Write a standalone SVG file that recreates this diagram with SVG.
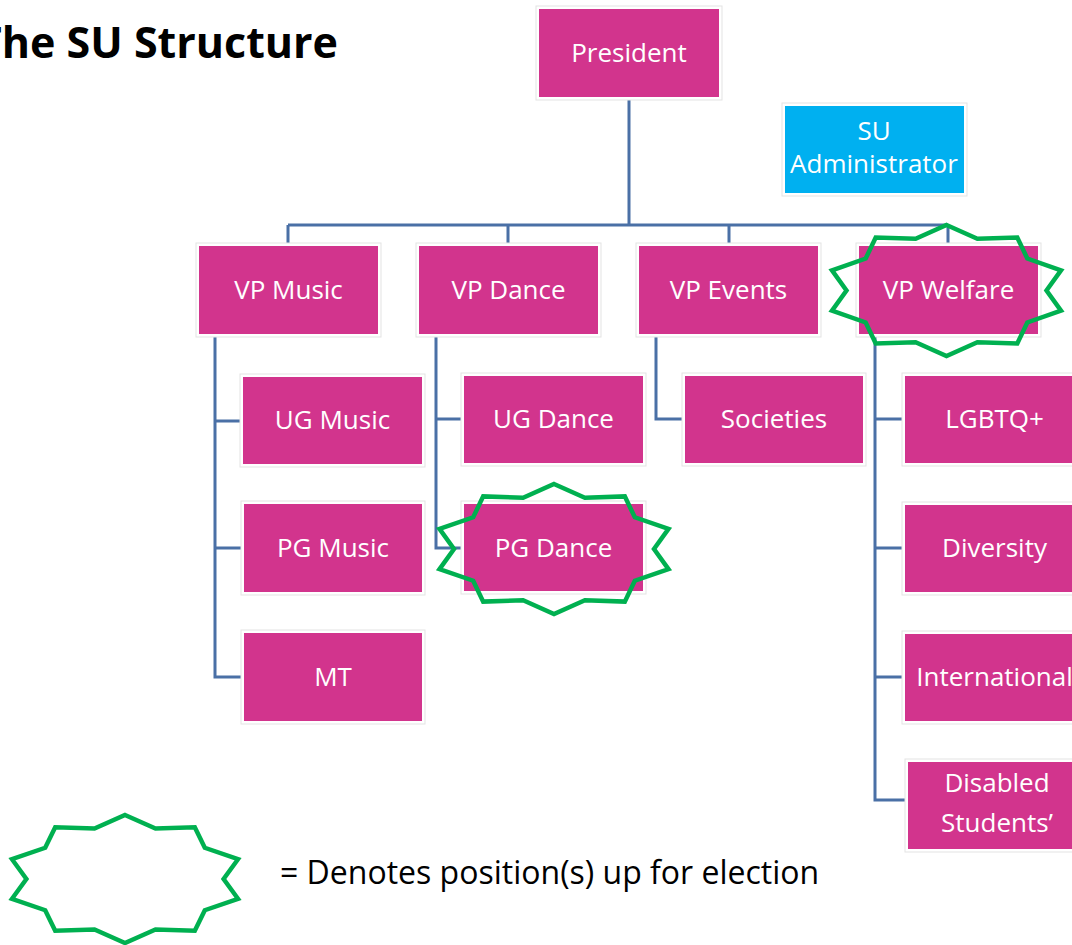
<svg xmlns="http://www.w3.org/2000/svg" width="1072" height="945" viewBox="0 0 1072 945">
<style>
.frame{fill:#fff;stroke:#e3e3e3;stroke-width:1}
.box{fill:#D2348D}
.blue{fill:#00B0F0}
.lbl{font-family:"Open Sans","DejaVu Sans",sans-serif;font-size:26px;fill:#fff;text-anchor:middle}
.conn{fill:none;stroke:#4A70A6;stroke-width:3;stroke-linejoin:miter}
.star{fill:none;stroke:#00B050;stroke-width:4.5;stroke-linejoin:miter}
</style>
<rect width="1072" height="945" fill="#fff"/>
<text x="338" y="58" text-anchor="end" font-family="'Open Sans','DejaVu Sans',sans-serif" font-weight="bold" font-size="43" fill="#000">The SU Structure</text>

<g id="connectors">
<path class="conn" d="M629 97V225M288 225H948M288 225V246M508 225V246M729 225V246M948 225V246"/>
<path class="conn" d="M215 334V677H244M215 421H243M215 548H244"/>
<path class="conn" d="M436 334V548H464M436 419H464"/>
<path class="conn" d="M656 334V419H685"/>
<path class="conn" d="M875 334V800H908M875 419H905M875 548H905M875 677H905"/>
</g>

<g id="president"><rect class="frame" x="536" y="6" width="186" height="94"/><rect class="box" x="539" y="9" width="180" height="88"/><text class="lbl" x="629" y="62">President</text></g>
<g id="su-admin"><rect class="frame" x="782" y="103" width="185" height="93"/><rect class="blue" x="785" y="106" width="179" height="87"/><text class="lbl" x="874" y="140">SU</text><text class="lbl" x="874" y="173">Administrator</text></g>

<g id="vp-music"><rect class="frame" x="196" y="243" width="185" height="94"/><rect class="box" x="199" y="246" width="179" height="88"/><text class="lbl" x="288.5" y="299">VP Music</text></g>
<g id="vp-dance"><rect class="frame" x="416" y="243" width="185" height="94"/><rect class="box" x="419" y="246" width="179" height="88"/><text class="lbl" x="508.5" y="299">VP Dance</text></g>
<g id="vp-events"><rect class="frame" x="636" y="243" width="185" height="94"/><rect class="box" x="639" y="246" width="179" height="88"/><text class="lbl" x="728.5" y="299">VP Events</text></g>
<g id="vp-welfare"><rect class="frame" x="856" y="243" width="185" height="94"/><rect class="box" x="859" y="246" width="179" height="88"/><text class="lbl" x="948.5" y="299">VP Welfare</text></g>

<g id="ug-music"><rect class="frame" x="240" y="374" width="185" height="93"/><rect class="box" x="243" y="377" width="179" height="87"/><text class="lbl" x="332.5" y="429">UG Music</text></g>
<g id="pg-music"><rect class="frame" x="241" y="501" width="184" height="94"/><rect class="box" x="244" y="504" width="178" height="88"/><text class="lbl" x="333" y="557">PG Music</text></g>
<g id="mt"><rect class="frame" x="241" y="630" width="184" height="94"/><rect class="box" x="244" y="633" width="178" height="88"/><text class="lbl" x="333" y="686">MT</text></g>

<g id="ug-dance"><rect class="frame" x="461" y="373" width="185" height="93"/><rect class="box" x="464" y="376" width="179" height="87"/><text class="lbl" x="553.5" y="428">UG Dance</text></g>
<g id="pg-dance"><rect class="frame" x="461" y="501" width="185" height="93"/><rect class="box" x="464" y="504" width="179" height="87"/><text class="lbl" x="553.5" y="557">PG Dance</text></g>

<g id="societies"><rect class="frame" x="682" y="373" width="184" height="93"/><rect class="box" x="685" y="376" width="178" height="87"/><text class="lbl" x="774" y="428">Societies</text></g>

<g id="lgbtq"><rect class="frame" x="902" y="373" width="185" height="93"/><rect class="box" x="905" y="376" width="179" height="87"/><text class="lbl" x="994.5" y="428">LGBTQ+</text></g>
<g id="diversity"><rect class="frame" x="902" y="502" width="185" height="93"/><rect class="box" x="905" y="505" width="179" height="87"/><text class="lbl" x="994.5" y="557">Diversity</text></g>
<g id="international"><rect class="frame" x="902" y="631" width="185" height="93"/><rect class="box" x="905" y="634" width="179" height="87"/><text class="lbl" x="994.5" y="686">International</text></g>
<g id="disabled"><rect class="frame" x="905" y="759" width="184" height="93"/><rect class="box" x="908" y="762" width="178" height="87"/><text class="lbl" x="997" y="792">Disabled</text><text class="lbl" x="997" y="832">Students’</text></g>

<g id="election-stars">
<polygon class="star" points="946.5,225 977.4,238.8 1017.3,237.5 1027.3,258.5 1061,270.3 1046.5,290.5 1061,310.7 1027.3,322.5 1017.3,343.5 977.4,342.2 946.5,356 915.6,342.2 875.7,343.5 865.7,322.5 832,310.7 846.5,290.5 832,270.3 865.7,258.5 875.7,237.5 915.6,238.8"/>
<polygon class="star" points="554,484 584.9,497.7 624.8,496.4 634.8,517.3 668.5,528.9 654,549 668.5,569.1 634.8,580.7 624.8,601.6 584.9,600.3 554,614 523.1,600.3 483.2,601.6 473.2,580.7 439.5,569.1 454,549 439.5,528.9 473.2,517.3 483.2,496.4 523.1,497.7"/>
</g>

<g id="legend">
<polygon class="star" points="125,815 155.5,828.5 194.8,827.2 204.8,847.8 238,859.2 223.6,879 238,898.8 204.8,910.2 194.8,930.8 155.5,929.5 125,943 94.5,929.5 55.2,930.8 45.2,910.2 12,898.8 26.4,879 12,859.2 45.2,847.8 55.2,827.2 94.5,828.5"/>
<text x="280" y="884" font-family="'Open Sans','DejaVu Sans',sans-serif" font-size="32" fill="#000">= Denotes position(s) up for election</text>
</g>
</svg>
